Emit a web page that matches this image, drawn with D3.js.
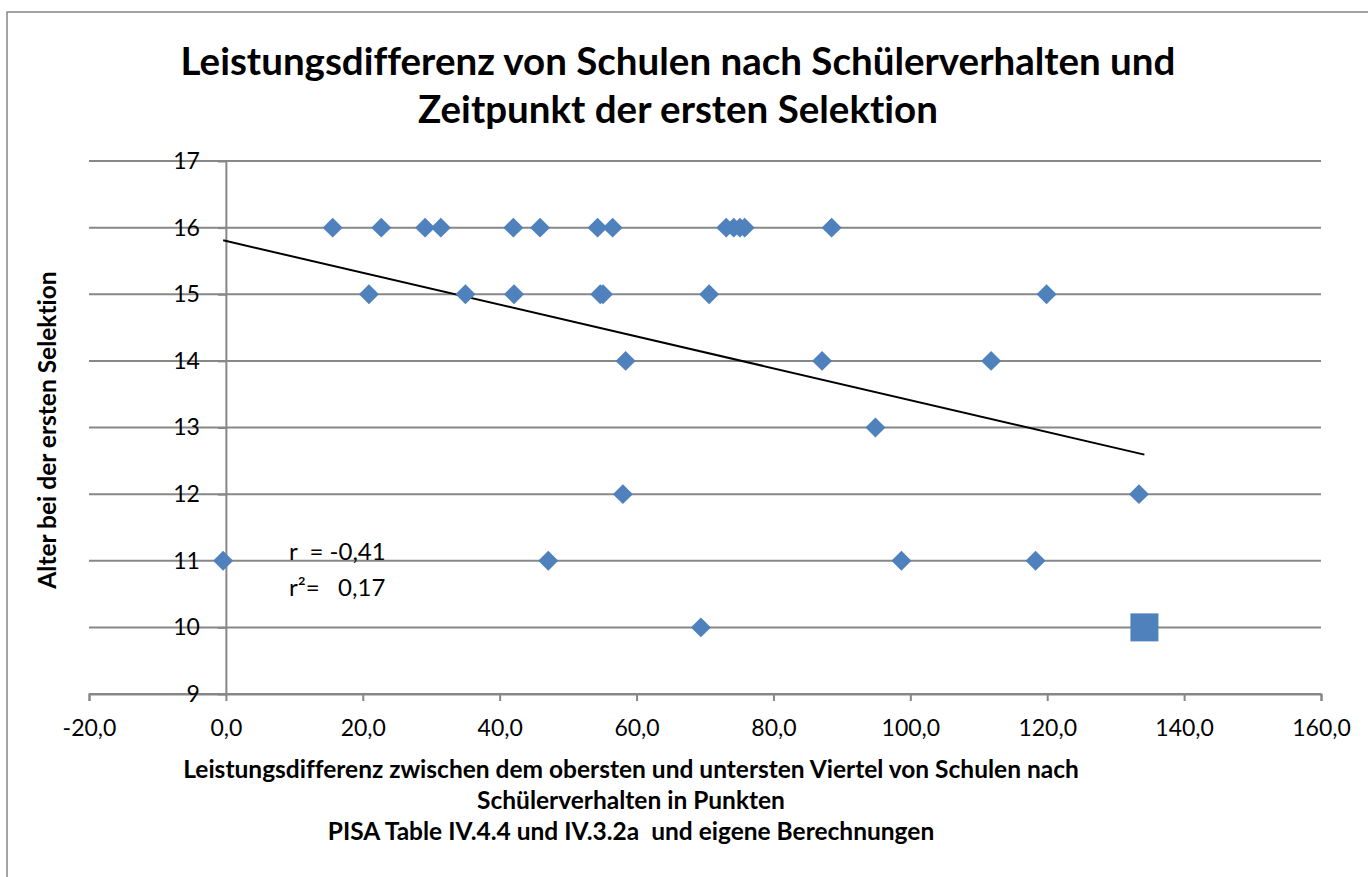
<!DOCTYPE html>
<html>
<head>
<meta charset="utf-8">
<script src="https://cdn.jsdelivr.net/npm/d3@7"></script>
<style>
  body { margin: 0; background: #fff; }
  svg text { font-family: Lato, "Open Sans", sans-serif; fill: #000; font-variant-ligatures: none; }
</style>
</head>
<body>
<svg id="chart" width="1368" height="877"></svg>
<script>
// values
const titleLines = ["Leistungsdifferenz von Schulen nach Schülerverhalten und", "Zeitpunkt der ersten Selektion"];
const xTitleLines = [
  "Leistungsdifferenz zwischen dem obersten und untersten Viertel von Schulen nach",
  "Schülerverhalten in Punkten",
  "PISA Table IV.4.4 und IV.3.2a  und eigene Berechnungen"
];
const yTitle = "Alter bei der ersten Selektion";
const xTicks = [-20, 0, 20, 40, 60, 80, 100, 120, 140, 160];
const yTicks = [9, 10, 11, 12, 13, 14, 15, 16, 17];

// diamond series: performance gap (x) and age of first selection (y)
const gapValues = [
  15.6, 22.7, 29.1, 31.4, 42.0, 45.9, 54.3, 56.5, 73.1, 74.2, 75.1, 75.8, 88.5,
  20.9, 35.0, 42.1, 54.7, 55.1, 70.6, 119.9,
  58.4, 87.1, 111.8,
  94.9,
  58.0, 133.4,
  -0.4, 47.1, 98.7, 118.3,
  69.4
];
const ageValues = [
  16, 16, 16, 16, 16, 16, 16, 16, 16, 16, 16, 16, 16,
  15, 15, 15, 15, 15, 15, 15,
  14, 14, 14,
  13,
  12, 12,
  11, 11, 11, 11,
  10
];
// highlighted point (square marker)
const highlightGap = [134.2];
const highlightAge = [10];

// linear trend line as shown
const trendIntercept = 15.8;
const trendSlope = -0.0239;
const trendRange = [-0.4, 134.2];

const statLines = ["r  = -0,41", "r\u00B2=   0,17"];

const svg = d3.select("#chart");
const blue = "#4F81BD";
const gridColor = "#878787";

// outer chart frame
svg.append("rect")
  .attr("x", 7).attr("y", 12)
  .attr("width", 1380).attr("height", 900)
  .attr("fill", "#fff")
  .attr("stroke", "#868686")
  .attr("stroke-width", 1.5);

const x = d3.scaleLinear().domain([-20, 160]).range([89, 1321]);
const y = d3.scaleLinear().domain([9, 17]).range([694, 161]);

// horizontal gridlines
svg.append("g")
  .selectAll("line")
  .data(yTicks)
  .enter()
  .append("line")
  .attr("x1", x(-20))
  .attr("x2", x(160))
  .attr("y1", d => y(d))
  .attr("y2", d => y(d))
  .attr("stroke", gridColor)
  .attr("stroke-width", 2);

const fmt = d => d.toFixed(1).replace(".", ",");

// x axis at y = 9
const xAxis = svg.append("g")
  .attr("transform", `translate(0,${y(9)})`)
  .call(d3.axisBottom(x).tickValues(xTicks).tickFormat(fmt).tickSize(7).tickSizeOuter(7).tickPadding(19));
xAxis.selectAll("path, line").attr("stroke", gridColor).attr("stroke-width", 2);
xAxis.selectAll("text").style("font-size", "23px").attr("dy", "0.71em");

// y axis crossing at x = 0
const yAxis = svg.append("g")
  .attr("transform", `translate(${x(0)},0)`)
  .call(d3.axisLeft(y).tickValues(yTicks).tickFormat(d3.format("d")).tickSize(8).tickSizeOuter(0).tickPadding(18));
yAxis.selectAll("path, line").attr("stroke", gridColor).attr("stroke-width", 2);
yAxis.selectAll("text").style("font-size", "23px");

// trend line
svg.append("line")
  .attr("x1", x(trendRange[0]))
  .attr("y1", y(trendIntercept + trendSlope * trendRange[0]))
  .attr("x2", x(trendRange[1]))
  .attr("y2", y(trendIntercept + trendSlope * trendRange[1]))
  .attr("stroke", "#000")
  .attr("stroke-width", 2);

// diamond markers
const diamond = d3.symbol().type(d3.symbolSquare).size(200);
svg.append("g")
  .selectAll("path")
  .data(gapValues.map((g, i) => ({ g, a: ageValues[i] })))
  .enter()
  .append("path")
  .attr("d", diamond)
  .attr("transform", d => `translate(${x(d.g)},${y(d.a)}) rotate(45)`)
  .attr("fill", blue);

// square marker
svg.append("g")
  .selectAll("rect")
  .data(highlightGap.map((g, i) => ({ g, a: highlightAge[i] })))
  .enter()
  .append("rect")
  .attr("x", d => x(d.g) - 14)
  .attr("y", d => y(d.a) - 14)
  .attr("width", 28)
  .attr("height", 28)
  .attr("fill", blue);

// correlation annotation
svg.append("g")
  .selectAll("text")
  .data(statLines)
  .enter()
  .append("text")
  .attr("x", 289)
  .attr("y", (d, i) => 560 + i * 36)
  .style("font-size", "24px")
  .style("white-space", "pre")
  .text(d => d);

// title
svg.append("g")
  .selectAll("text")
  .data(titleLines)
  .enter()
  .append("text")
  .attr("x", 678)
  .attr("y", (d, i) => 75 + i * 48)
  .attr("text-anchor", "middle")
  .style("font-size", "38.5px")
  .style("font-weight", "bold")
  .text(d => d);

// x axis title
svg.append("g")
  .selectAll("text")
  .data(xTitleLines)
  .enter()
  .append("text")
  .attr("x", 631)
  .attr("y", (d, i) => 778 + i * 31)
  .attr("text-anchor", "middle")
  .style("font-size", "24.5px")
  .style("font-weight", "bold")
  .style("white-space", "pre")
  .text(d => d);

// y axis title
svg.append("text")
  .attr("transform", `translate(56,430) rotate(-90)`)
  .attr("text-anchor", "middle")
  .style("font-size", "24.5px")
  .style("font-weight", "bold")
  .text(yTitle);
</script>
</body>
</html>
